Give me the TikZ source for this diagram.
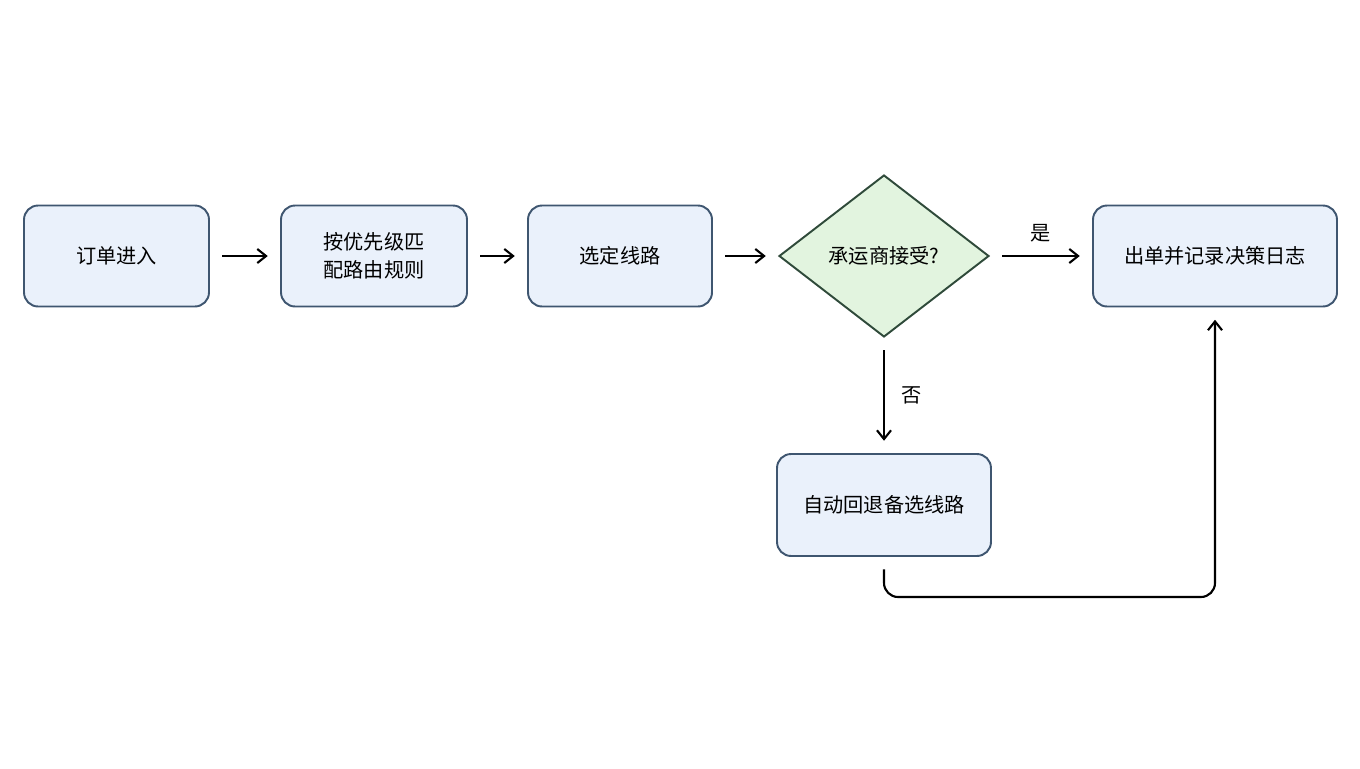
\documentclass[tikz,border=0pt]{standalone}
\usepackage{fontspec}
\setmainfont{Noto Sans CJK SC}
\usetikzlibrary{shapes.geometric,arrows.meta}
\definecolor{boxfill}{HTML}{EAF1FB}
\definecolor{boxline}{HTML}{3F5670}
\definecolor{decfill}{HTML}{E2F4DF}
\definecolor{decline}{HTML}{2F4A3A}
\begin{document}
\begin{tikzpicture}[x=0.02cm,y=-0.02cm,
  stage/.style={draw=boxline,fill=boxfill,rounded corners=8pt,line width=1.1pt,
    minimum height=2.02cm,align=center,font=\fontsize{11.5}{16}\selectfont},
  check/.style={draw=decline,fill=decfill,diamond,aspect=1.3,line width=1.1pt,
    minimum width=4.2cm,minimum height=3.24cm,inner sep=0pt,font=\fontsize{11.5}{16}\selectfont},
  flow/.style={-{Straight Barb[length=5pt,width=8pt]},line width=1.2pt,shorten <=7pt,shorten >=7pt}]
\useasboundingbox (0,0) rectangle (1360,768);
          \node[stage,minimum width=3.7cm] (order) at (116.5,256) {订单进入};
          \node[stage,minimum width=3.72cm] (match) at (374,256) {按优先级匹\\配路由规则};
          \node[stage,minimum width=3.68cm] (pick) at (620,256) {选定线路};
          \node[check] (accept) at (884,256) {承运商接受?};
          \node[stage,minimum width=4.88cm] (issue) at (1215,256) {出单并记录决策日志};
          \node[stage,minimum width=4.28cm,minimum height=2.04cm] (fallback) at (884,505) {自动回退备选线路};
          \coordinate (bend) at (884,597);
          \coordinate (turn) at (1215,597);

          \draw[flow] (order) -- (match);
          \draw[flow] (match) -- (pick);
          \draw[flow] (pick) -- (accept);
          \draw[flow] (accept) -- node[above,yshift=4pt,font=\fontsize{11.5}{14}\selectfont] {是} (issue);
          \draw[flow] (accept) -- node[right,xshift=6pt,font=\fontsize{11.5}{14}\selectfont] {否} (fallback);
          \draw[flow,rounded corners=8pt] (fallback) -- (bend) -- (turn) -- (issue);
      \end{tikzpicture}
\end{document}
